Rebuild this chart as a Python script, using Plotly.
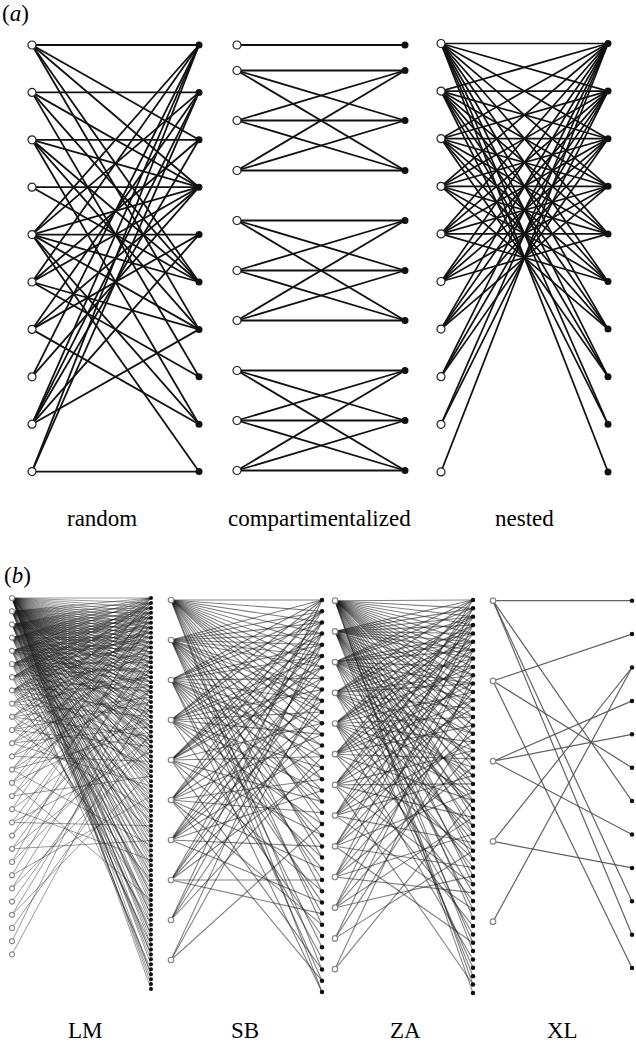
import plotly.graph_objects as go

# ---------------- data: who interacts with whom ----------------
# (a) theoretical networks, 10 x 10 species
RANDOM_LINKS = [
    [0, 2, 3, 5, 6],
    [1, 3, 5, 7],
    [2, 3, 5, 6, 8],
    [3, 5],
    [4, 0, 1, 3, 5, 6, 8, 9],
    [0, 2, 3, 6, 7],
    [1, 3, 4, 8],
    [0, 3],
    [0, 1, 2, 4, 6],
    [9, 0, 1],
]
COMPART_MODULES = [[0], [1, 2, 3], [4, 5, 6], [7, 8, 9]]
NESTED_REACH = [10, 9, 8, 7, 6, 5, 4, 3, 2, 1]   # left i links right 0..reach-1

# (b) observed networks
LM_LINKS = [
    [0, 1, 2, 3, 4, 5, 6, 7, 8, 9, 10, 11, 12, 13, 14, 15, 16, 17, 18, 19, 20, 21, 22,
     23, 24, 25, 26, 27, 28, 29, 30, 31, 32, 33, 34, 35, 36, 38, 40, 42, 44, 46, 48,
     50, 52, 54, 56, 58, 60, 62, 64, 66, 68, 70, 72, 74, 76, 78, 79],
    [0, 1, 2, 3, 4, 5, 6, 7, 8, 9, 10, 11, 12, 13, 14, 15, 16, 17, 18, 19, 20, 22, 24,
     25, 27, 28, 30, 31, 34, 37, 41, 45, 49, 53, 57, 61, 65, 69, 73, 77],
    [0, 1, 2, 3, 4, 5, 6, 7, 8, 9, 10, 11, 12, 13, 14, 16, 17, 19, 21, 23, 24, 26, 27,
     29, 30, 33, 36, 39, 43, 47, 51, 55, 60, 64, 68, 72, 76],
    [0, 1, 2, 3, 4, 5, 6, 8, 9, 11, 13, 14, 16, 18, 20, 22, 23, 26, 29, 32, 35, 38, 42,
     46, 50, 56, 63, 71],
    [0, 2, 3, 4, 6, 7, 9, 10, 12, 15, 17, 18, 21, 24, 27, 30, 33, 37, 44, 52, 59, 67, 75],
    [1, 2, 4, 5, 7, 8, 10, 13, 15, 17, 19, 22, 26, 31, 36, 41, 48, 58, 70],
    [0, 1, 3, 5, 7, 9, 11, 14, 19, 25, 32, 40, 54, 66],
    [1, 3, 6, 8, 12, 16, 18, 23, 29, 35, 45, 62],
    [0, 4, 10, 16, 24, 34, 47],
    [2, 6, 11, 20, 28, 39, 57],
    [0, 5, 13, 21, 30, 43],
    [1, 7, 15, 26, 38],
    [3, 9, 19, 33],
    [0, 6, 17, 27, 50],
    [2, 11, 24, 61],
    [4, 14, 36],
    [1, 22, 53],
    [8, 31, 46],
    [5, 18],
    [12, 28, 49],
    [3, 25],
    [9, 40],
    [30, 14],
    [22],
    [35, 18],
    [27],
    [12],
    [20],
]
LM_RIGHT = 80

SB_LINKS = [
    [0, 1, 2, 3, 4, 5, 6, 7, 8, 9, 10, 11, 12, 14, 16, 18, 20, 23, 26, 29, 33, 35],
    [0, 1, 2, 3, 4, 5, 6, 8, 9, 10, 12, 13, 15, 17, 19, 22, 25, 28, 31, 34],
    [0, 1, 2, 4, 5, 7, 9, 11, 13, 14, 16, 18, 21, 24, 27, 32, 35],
    [0, 1, 3, 5, 6, 8, 10, 12, 15, 17, 20, 23, 30],
    [1, 2, 3, 4, 6, 7, 11, 14, 18, 21, 26, 33],
    [0, 2, 4, 5, 9, 12, 16, 19, 24, 29, 34],
    [1, 3, 6, 8, 10, 13, 17, 22, 27],
    [2, 5, 7, 11, 15, 25, 28],
    [0, 4, 9, 14],
    [3, 8, 20],
]
SB_RIGHT = 36

ZA_LINKS = [
    [0, 1, 2, 3, 4, 5, 6, 7, 8, 9, 10, 11, 12, 13, 14, 15, 16, 18, 20, 22, 24, 26, 28,
     31, 34, 38, 42, 46, 47],
    [0, 1, 2, 3, 4, 5, 6, 7, 9, 11, 13, 15, 17, 19, 21, 23, 25, 27, 30, 33, 37, 41, 45],
    [0, 1, 2, 4, 5, 6, 8, 10, 12, 14, 16, 19, 22, 25, 29, 35, 44],
    [0, 2, 3, 5, 7, 9, 10, 13, 16, 18, 21, 24, 28, 32, 40],
    [1, 3, 4, 6, 8, 11, 14, 17, 20, 23, 27, 31, 36, 43],
    [0, 2, 5, 7, 10, 12, 15, 19, 24, 30, 39],
    [1, 3, 6, 9, 13, 18, 22, 26, 34, 46],
    [0, 4, 8, 12, 17, 21, 29, 37],
    [2, 5, 11, 16, 23, 32, 41],
    [1, 7, 14, 20, 28, 35],
    [3, 10, 18, 26, 33],
    [6, 15, 30],
    [9, 24],
]
ZA_RIGHT = 48

XL_LINKS = [
    [0, 6, 9, 10],
    [1, 5, 11],
    [3, 4, 7],
    [2, 8],
    [2],
]
XL_RIGHT = 12

PANEL_A_NAMES = ["random", "compartimentalized", "nested"]
PANEL_B_NAMES = ["LM", "SB", "ZA", "XL"]

# ---------------- drawing ----------------
W, H = 636, 1045
SERIF = "Liberation Serif"

fig = go.Figure()


def pairs_from_lists(links):
    return [(i, j) for i, row in enumerate(links) for j in row]


def draw_network(pairs, left_y, right_y, xl, xr, edge_color, edge_width,
                 node_size, left_line, right_color):
    ex, ey = [], []
    for i, j in pairs:
        ex += [xl, xr, None]
        ey += [left_y[i], right_y[j], None]
    fig.add_trace(go.Scatter(x=ex, y=ey, mode="lines",
                             line=dict(color=edge_color, width=edge_width),
                             hoverinfo="skip", showlegend=False))
    fig.add_trace(go.Scatter(x=[xr] * len(right_y), y=right_y, mode="markers",
                             marker=dict(size=node_size, color=right_color,
                                         line=dict(width=0)),
                             hoverinfo="skip", showlegend=False))
    fig.add_trace(go.Scatter(x=[xl] * len(left_y), y=left_y, mode="markers",
                             marker=dict(size=node_size + 1, color="white",
                                         line=dict(color=left_line, width=1.2)),
                             hoverinfo="skip", showlegend=False))


def column(top, step, n):
    return [top + step * k for k in range(n)]


# (a) random
draw_network(pairs_from_lists(RANDOM_LINKS),
             column(45, 47.4, 10), column(45, 47.4, 10),
             32, 199, "#111111", 1.8, 7, "#222222", "#111111")

# (a) compartimentalized: first species sits half a row above the modules
comp_rows = [45] + [45 + 25.5 + 50 * (k - 1) for k in range(1, 10)]
comp_pairs = [(i, j) for mod in COMPART_MODULES for i in mod for j in mod]
draw_network(comp_pairs, comp_rows, comp_rows,
             237, 405, "#111111", 1.8, 7, "#222222", "#111111")

# (a) nested
nested_pairs = [(i, j) for i, r in enumerate(NESTED_REACH) for j in range(r)]
draw_network(nested_pairs, column(43.5, 47.6, 10), column(43.5, 47.6, 10),
             441, 608, "#111111", 1.7, 7, "#222222", "#111111")

# (b) observed networks
draw_network(pairs_from_lists(LM_LINKS),
             column(598, 13.2, len(LM_LINKS)), column(598, 4.95, LM_RIGHT),
             12, 151, "rgba(30,30,30,0.45)", 1.0, 4, "#888888", "#111111")
draw_network(pairs_from_lists(SB_LINKS),
             column(600, 40, len(SB_LINKS)), column(600, 11.2, SB_RIGHT),
             171, 322, "rgba(25,25,25,0.55)", 1.1, 4.5, "#888888", "#111111")
draw_network(pairs_from_lists(ZA_LINKS),
             column(600.7, 30.7, len(ZA_LINKS)), column(600, 8.36, ZA_RIGHT),
             335, 473, "rgba(25,25,25,0.55)", 1.1, 4.5, "#888888", "#111111")
draw_network(pairs_from_lists(XL_LINKS),
             column(600.7, 80.25, len(XL_LINKS)), column(600.7, 33.4, XL_RIGHT),
             493, 632, "rgba(80,80,80,0.9)", 1.2, 4.5, "#888888", "#111111")

# labels
ann = []
for name, cx in zip(PANEL_A_NAMES, [102, 319, 524]):
    ann.append(dict(x=cx, y=518, text=name))
for name, cx in zip(PANEL_B_NAMES, [85, 245, 405, 562]):
    ann.append(dict(x=cx, y=1030, text=name))
ann.append(dict(x=15, y=13, text="(<i>a</i>)"))
ann.append(dict(x=17, y=575, text="(<i>b</i>)"))
for a in ann:
    a.update(xref="x", yref="y", showarrow=False,
             font=dict(family=SERIF, size=23, color="black"),
             xanchor="center", yanchor="middle")

fig.update_layout(
    width=W, height=H, autosize=False,
    margin=dict(l=0, r=0, t=0, b=0),
    paper_bgcolor="white", plot_bgcolor="white",
    font=dict(family=SERIF),
    annotations=ann,
    xaxis=dict(range=[0, W], visible=False, fixedrange=True),
    yaxis=dict(range=[H, 0], visible=False, fixedrange=True),
)

fig.write_html("out.html")
